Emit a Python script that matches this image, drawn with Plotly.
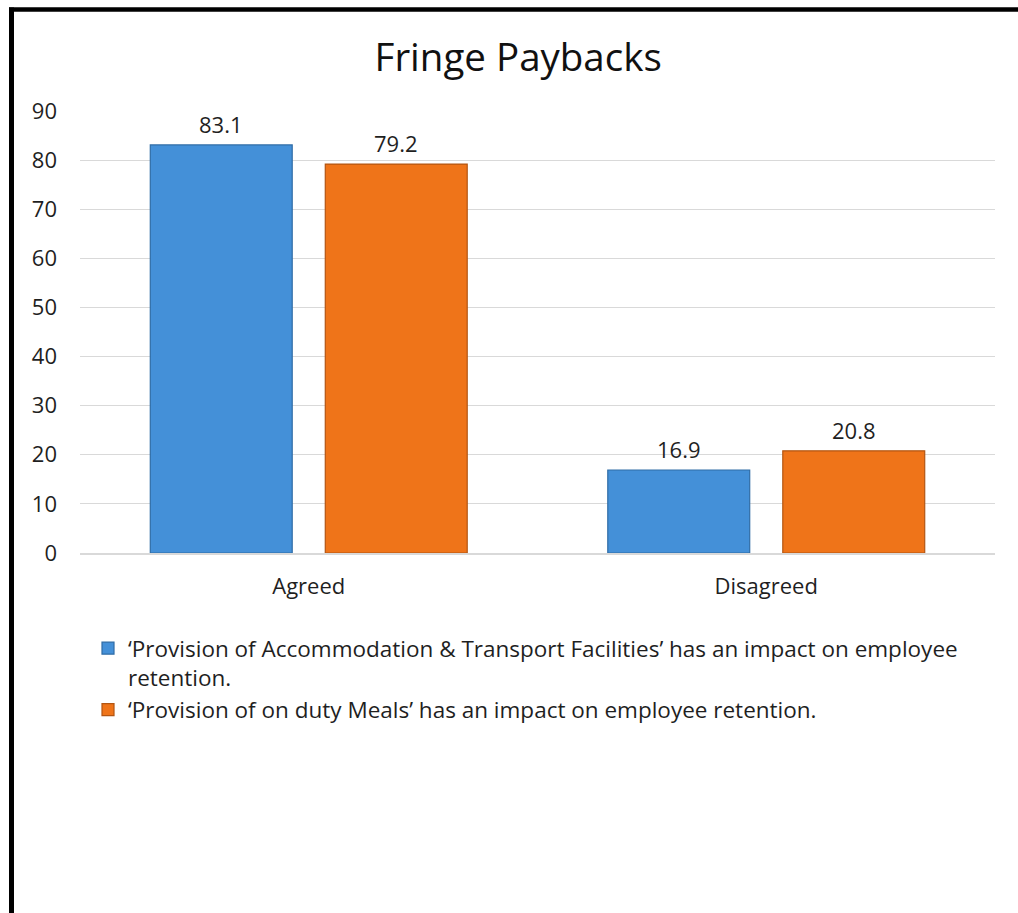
import plotly.graph_objects as go

# Survey responses (percent)
categories = ["Agreed", "Disagreed"]
accommodation_transport = [83.1, 16.9]
on_duty_meals = [79.2, 20.8]

series_names = [
    "‘Provision of Accommodation & Transport Facilities’ has an impact on employee<br>retention.",
    "‘Provision of on duty Meals’ has an impact on employee retention.",
]
y_ticks = [0, 10, 20, 30, 40, 50, 60, 70, 80, 90]

FONT = "'Open Sans', Lato, sans-serif"
TEXT = "#1f1f1f"

W, H = 1018, 913
L, R, T, B = 80, 23, 111, 360
PW, PH = W - L - R, H - T - B

fig = go.Figure()
fig.add_trace(go.Bar(
    name=series_names[0], x=categories, y=accommodation_transport,
    marker=dict(color="#4490d8", line=dict(color="#2f6ca6", width=1.2)),
))
fig.add_trace(go.Bar(
    name=series_names[1], x=categories, y=on_duty_meals,
    marker=dict(color="#ef7419", line=dict(color="#b35512", width=1.2)),
))

# value labels above each bar
slot_px = PW / len(categories) * (1 - 0.235) / 2
for vals, sign in ((accommodation_transport, -1), (on_duty_meals, 1)):
    for c, v in zip(categories, vals):
        fig.add_annotation(
            x=c, y=v, xref="x", yref="y", text=f"{v:.1f}", showarrow=False,
            xshift=sign * slot_px / 2, yshift=21,
            font=dict(family=FONT, size=22, color=TEXT),
        )


def px_to_paper_x(px):
    return (px - L) / PW


def px_to_paper_y(py):
    return (H - B - py) / PH


# black frame edges (top and left)
fig.add_shape(type="line", xref="paper", yref="paper",
              x0=px_to_paper_x(9), x1=px_to_paper_x(W + 5),
              y0=px_to_paper_y(9.5), y1=px_to_paper_y(9.5),
              line=dict(color="black", width=4.5))
fig.add_shape(type="line", xref="paper", yref="paper",
              x0=px_to_paper_x(11.5), x1=px_to_paper_x(11.5),
              y0=px_to_paper_y(7.5), y1=px_to_paper_y(H + 5),
              line=dict(color="black", width=5))

fig.update_layout(
    width=W, height=H,
    margin=dict(l=L, r=R, t=T, b=B, pad=0),
    paper_bgcolor="white", plot_bgcolor="white",
    title=dict(text="Fringe Paybacks", x=0.509, xanchor="center",
               y=1 - 58 / H, yanchor="middle",
               font=dict(family=FONT, size=38.5, color="#111111")),
    barmode="group", bargap=0.235, bargroupgap=0.189,
    font=dict(family=FONT, color=TEXT),
    xaxis=dict(showgrid=False, showline=True, linecolor="#d9d9d9", linewidth=1.5,
               ticks="", tickfont=dict(size=22, color=TEXT), ticklabelstandoff=13),
    yaxis=dict(range=[0, 90], tickvals=y_ticks, showgrid=True, gridcolor="#d9d9d9",
               gridwidth=1, zeroline=False, showline=False, ticks="",
               tickfont=dict(size=22, color=TEXT), ticklabelstandoff=22),
    legend=dict(orientation="v", x=px_to_paper_x(88), xanchor="left",
                y=px_to_paper_y(627), yanchor="top", valign="top",
                font=dict(family=FONT, size=22.5, color=TEXT),
                itemwidth=30, bgcolor="rgba(0,0,0,0)"),
    showlegend=True,
)

fig.write_html("out.html")
